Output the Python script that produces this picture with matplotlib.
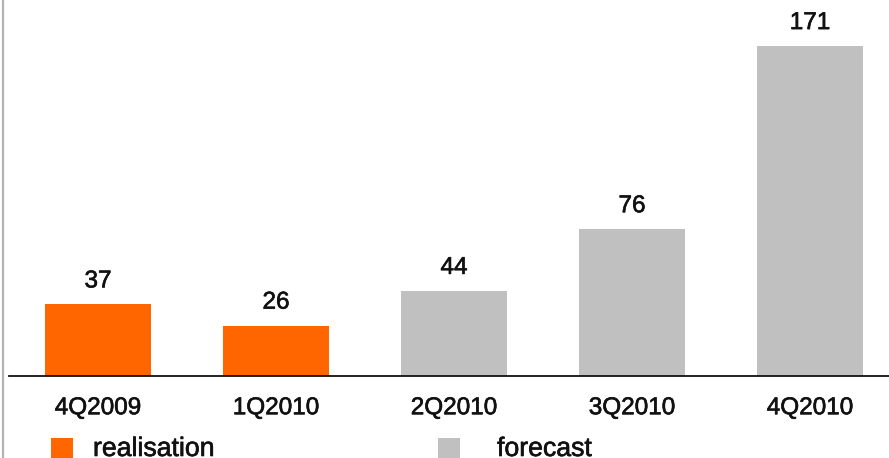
import matplotlib
matplotlib.use("Agg")
import matplotlib.pyplot as plt
import matplotlib.patheffects as pe
from matplotlib.patches import Rectangle
from matplotlib.lines import Line2D

quarters = ["4Q2009", "1Q2010", "2Q2010", "3Q2010", "4Q2010"]
values = [37, 26, 44, 76, 171]
kinds = ["realisation", "realisation", "forecast", "forecast", "forecast"]
colors = {"realisation": "#FF6600", "forecast": "#C0C0C0"}

plt.rcParams["font.family"] = ["Liberation Sans", "DejaVu Sans"]
ink = "#111111"
heavy = [pe.withStroke(linewidth=0.45, foreground=ink)]

W, H = 889, 458
fig = plt.figure(figsize=(W / 100, H / 100), dpi=100)

left_px, base_px = 9.0, 375.7
ax = fig.add_axes([left_px / W, (H - base_px) / H, (W - left_px) / W, base_px / H])
ax.set_xlim(-0.5, -0.5 + (W - left_px) / 178.0)
ax.set_ylim(0, base_px / 1.928)

x = range(len(quarters))
bars = ax.bar(x, values, width=0.59, color=[colors[k] for k in kinds])
for b, v in zip(bars, values):
    ax.annotate(str(v), (b.get_x() + b.get_width() / 2, v), xytext=(0, 12.2),
                textcoords="offset points", ha="center", va="baseline",
                fontsize=17.5, color=ink, path_effects=heavy)

for s in ["top", "right", "left"]:
    ax.spines[s].set_visible(False)
ax.spines["bottom"].set_linewidth(1.3)
ax.spines["bottom"].set_color(ink)
ax.set_yticks([])
ax.set_xticks(list(x))
ax.set_xticklabels(quarters, fontsize=17.5, color=ink)
for t in ax.get_xticklabels():
    t.set_path_effects(heavy)
ax.tick_params(axis="x", length=0, pad=15.5)

# left border line
fig.add_artist(Line2D([2.5 / W, 2.5 / W], [0, 1], color="#B3B3B3", linewidth=1.6,
                      transform=fig.transFigure))

# legend
for sx, tx, label in [(51, 93, "realisation"), (438, 497, "forecast")]:
    fig.add_artist(Rectangle((sx / W, 0), 21.5 / W, 20 / H, transform=fig.transFigure,
                             color=colors[label], linewidth=0))
    fig.text(tx / W, 2.0 / H, label, fontsize=19.2, color=ink,
             ha="left", va="baseline", path_effects=heavy)

fig.savefig("out.png", dpi=100)
